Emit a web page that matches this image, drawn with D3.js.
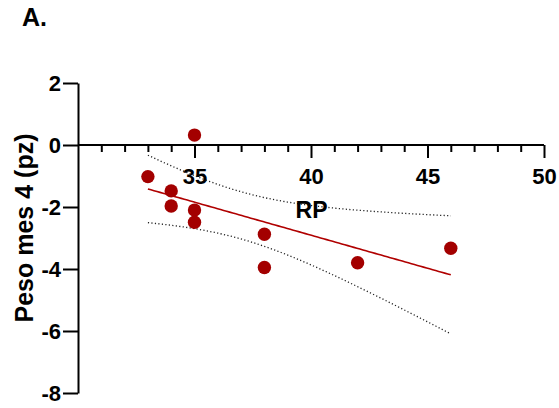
<!DOCTYPE html>
<html>
<head>
<meta charset="utf-8">
<script src="https://cdn.jsdelivr.net/npm/d3@7"></script>
<style>
  html, body { margin: 0; padding: 0; background: #fff; }
  svg { display: block; }
  text { font-family: "Liberation Sans", Arial, sans-serif; font-weight: bold; fill: #000; }
</style>
</head>
<body>
<svg id="chart" width="559" height="408"></svg>
<script>
// Observations: RP (x) vs. weight z-score at month 4 (y)
const rpValues   = [35, 33, 34, 34, 35, 35, 38, 38, 42, 46];
const pesoValues = [0.32, -1.02, -1.48, -1.97, -2.1, -2.49, -2.88, -3.95, -3.8, -3.33];

const xMajorTicks = [35, 40, 45, 50];
const xMinorTicks = [31, 32, 33, 34, 36, 37, 38, 39, 41, 42, 43, 44, 46, 47, 48, 49];
const yTicks = [-8, -6, -4, -2, 0, 2];

const panelLabel = "A.";
const xLabel = "RP";
const yLabel = "Peso mes 4 (pz)";

// Two-sided 95% t critical value, df = n - 2 = 8
const tCrit = 2.306;

const svg = d3.select("#chart");

const x = d3.scaleLinear().domain([30, 50]).range([78, 544]);
const y = d3.scaleLinear().domain([-8, 2]).range([393, 83]);

// Least-squares fit with 95% confidence band
const n = rpValues.length;
const mx = d3.mean(rpValues), my = d3.mean(pesoValues);
let sxx = 0, sxy = 0;
rpValues.forEach((xi, i) => { sxx += (xi - mx) ** 2; sxy += (xi - mx) * (pesoValues[i] - my); });
const slope = sxy / sxx;
const intercept = my - slope * mx;
let sse = 0;
rpValues.forEach((xi, i) => { sse += (pesoValues[i] - (intercept + slope * xi)) ** 2; });
const s = Math.sqrt(sse / (n - 2));
const [x0, x1] = d3.extent(rpValues);
const grid = d3.range(0, 101).map(k => x0 + (x1 - x0) * k / 100);
const band = grid.map(xv => {
  const fit = intercept + slope * xv;
  const half = tCrit * s * Math.sqrt(1 / n + (xv - mx) ** 2 / sxx);
  return { x: xv, fit, lo: fit - half, hi: fit + half };
});

const line = key => d3.line().x(d => x(d.x)).y(d => y(d[key]));

// Axes
const axisStyle = g => {
  g.selectAll("path, line").attr("stroke", "#000").attr("stroke-width", 2);
  g.selectAll("text").attr("font-size", 22).attr("font-family", null);
};

svg.append("g")
  .attr("transform", `translate(0,${y(0)})`)
  .call(d3.axisBottom(x).tickValues(xMinorTicks).tickSize(7).tickSizeOuter(0).tickFormat(""))
  .call(axisStyle)
  .call(g => g.select(".domain").remove());

svg.append("g")
  .attr("transform", `translate(0,${y(0)})`)
  .call(d3.axisBottom(x).tickValues(xMajorTicks).tickSize(13).tickSizeOuter(0).tickPadding(10).tickFormat(d => String(d)))
  .call(axisStyle)
  .call(g => g.select(".domain").attr("d", `M${x(30)},0H${x(50)}`));

svg.append("g")
  .attr("transform", `translate(${x(30)},0)`)
  .call(d3.axisLeft(y).tickValues(yTicks).tickSize(15).tickSizeOuter(0).tickPadding(2).tickFormat(d => String(d)))
  .call(axisStyle);

svg.selectAll(".tick text").attr("fill", "#000");

// Confidence band (dotted) and fit line
["hi", "lo"].forEach(key => {
  svg.append("path")
    .datum(band)
    .attr("fill", "none")
    .attr("stroke", "#222")
    .attr("stroke-width", 1.3)
    .attr("stroke-dasharray", "1.2,2.3")
    .attr("d", line(key));
});

svg.append("path")
  .datum(band)
  .attr("fill", "none")
  .attr("stroke", "#b00000")
  .attr("stroke-width", 1.6)
  .attr("d", line("fit"));

// Points
svg.append("g")
  .selectAll("circle")
  .data(rpValues.map((v, i) => ({ x: v, y: pesoValues[i] })))
  .join("circle")
  .attr("cx", d => x(d.x))
  .attr("cy", d => y(d.y))
  .attr("r", 6.7)
  .attr("fill", "#a30000");

// Labels
svg.append("text")
  .attr("x", 311.5)
  .attr("y", 218)
  .attr("text-anchor", "middle")
  .attr("font-size", 23)
  .text(xLabel);

svg.append("text")
  .attr("transform", "translate(33,228) rotate(-90)")
  .attr("text-anchor", "middle")
  .attr("font-size", 25)
  .text(yLabel);

svg.append("text")
  .attr("x", 22)
  .attr("y", 26)
  .attr("font-size", 25)
  .text(panelLabel);
</script>
</body>
</html>
